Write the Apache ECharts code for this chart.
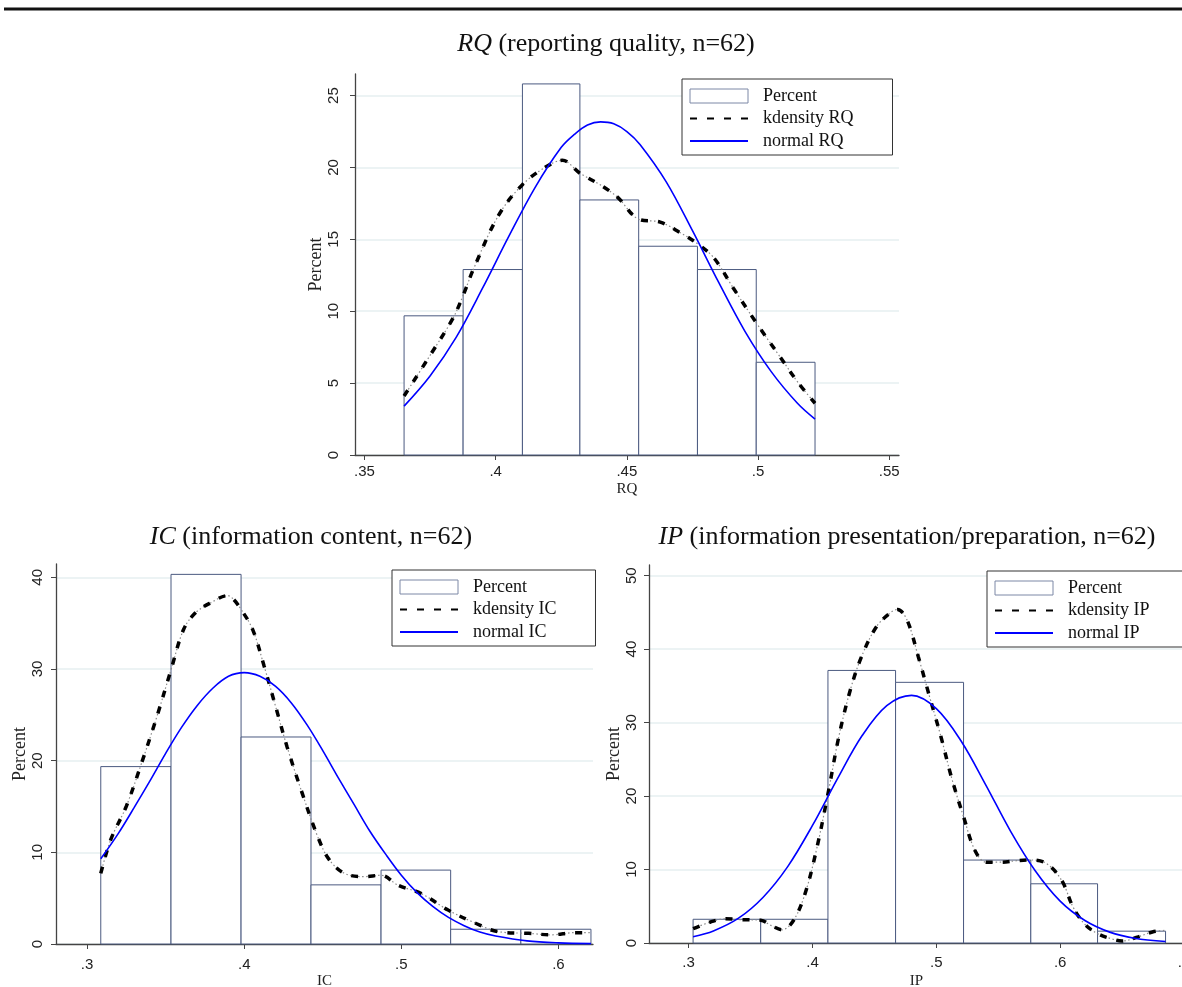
<!DOCTYPE html>
<html>
<head>
<meta charset="utf-8">
<script src="https://cdn.jsdelivr.net/npm/echarts@6/dist/echarts.min.js"></script>
<style>
  html, body { margin: 0; padding: 0; background: #fff; }
  #chart { width: 1182px; height: 987px; }
</style>
</head>
<body>
<div id="chart"></div>
<script>
// ---- RQ (reporting quality) ----
const rqEdges = [0.3651, 0.3876, 0.4102, 0.4321, 0.4545, 0.4769, 0.4993, 0.5217];
const rqPct = [9.68, 12.90, 25.81, 17.74, 14.52, 12.90, 6.45];
const rqKdens = [[0.3651, 4.1], [0.3749, 6.9], [0.3837, 9.5], [0.3876, 11.1], [0.3917, 13.0], [0.4012, 16.7],
  [0.4102, 18.8], [0.4188, 20.0], [0.4254, 20.5], [0.4321, 19.6], [0.4407, 18.7], [0.4466, 17.9],
  [0.4545, 16.4], [0.4627, 16.2], [0.4700, 15.5], [0.4769, 14.7], [0.4832, 13.7], [0.4906, 11.6],
  [0.4993, 9.2], [0.5081, 6.9], [0.5154, 5.0], [0.5217, 3.6]];
const rqNormal = [[0.3651, 3.4], [0.375, 5.5], [0.385, 8.2], [0.395, 11.6], [0.405, 15.2], [0.415, 18.6],
  [0.425, 21.4], [0.43, 22.3], [0.435, 22.95], [0.44, 23.17], [0.445, 23.04], [0.45, 22.5], [0.455, 21.6],
  [0.465, 19.0], [0.475, 15.6], [0.485, 12.0], [0.495, 8.6], [0.505, 5.8], [0.515, 3.6], [0.5217, 2.5]];
const rqXTicks = [0.35, 0.4, 0.45, 0.5, 0.55];
const rqYTicks = [0, 5, 10, 15, 20, 25];

// ---- IC (information content) ----
const icEdges = [0.3087, 0.3534, 0.3980, 0.4425, 0.4871, 0.5314, 0.5761, 0.6207];
const icPct = [19.35, 40.32, 22.58, 6.45, 8.06, 1.61, 1.61];
const icKdens = [[0.3087, 7.7], [0.3151, 11.4], [0.3249, 15.0], [0.3346, 19.7], [0.3444, 24.8], [0.3534, 29.9],
  [0.3614, 34.3], [0.3688, 36.1], [0.3785, 37.2], [0.3895, 38.0], [0.3932, 37.6], [0.3980, 36.5],
  [0.4054, 34.3], [0.4127, 30.3], [0.4200, 25.9], [0.4273, 21.5], [0.4370, 16.4], [0.4468, 11.7],
  [0.4541, 9.2], [0.4639, 7.7], [0.4761, 7.35], [0.4871, 7.5], [0.4980, 6.4], [0.5127, 5.5],
  [0.5298, 3.7], [0.5468, 2.3], [0.5614, 1.35], [0.5810, 1.16], [0.5955, 1.0], [0.6102, 1.24], [0.6207, 1.24]];
const icNormal = [[0.3087, 9.3], [0.32, 12.1], [0.33, 14.9], [0.34, 17.8], [0.35, 20.8], [0.36, 23.6],
  [0.37, 26.0], [0.38, 27.9], [0.39, 29.2], [0.40, 29.6], [0.41, 29.2], [0.42, 28.1], [0.43, 26.3],
  [0.44, 23.9], [0.45, 21.1], [0.46, 18.1], [0.47, 15.2], [0.48, 12.3], [0.49, 9.8], [0.50, 7.5],
  [0.51, 5.6], [0.52, 4.1], [0.53, 2.9], [0.54, 2.0], [0.55, 1.3], [0.56, 0.87], [0.58, 0.34],
  [0.60, 0.12], [0.6207, 0.04]];
const icXTicks = [0.3, 0.4, 0.5, 0.6];
const icYTicks = [0, 10, 20, 30, 40];

// ---- IP (information presentation/preparation) ----
const ipEdges = [0.3036, 0.3582, 0.4125, 0.4671, 0.5220, 0.5763, 0.6302, 0.6851];
const ipPct = [3.23, 3.23, 37.10, 35.48, 11.29, 8.06, 1.61];
const ipKdens = [[0.3036, 1.95], [0.3177, 2.86], [0.3299, 3.3], [0.3421, 3.18], [0.3582, 3.1], [0.3665, 2.4],
  [0.3756, 1.8], [0.3848, 3.1], [0.3940, 6.7], [0.4031, 12.6], [0.4125, 20.3], [0.4213, 28.1],
  [0.4305, 34.4], [0.4397, 39.0], [0.4519, 43.1], [0.4641, 45.1], [0.4687, 45.4], [0.4763, 44.0],
  [0.4854, 39.0], [0.4946, 33.5], [0.5037, 28.1], [0.5128, 22.2], [0.5220, 17.2], [0.5312, 12.6],
  [0.5403, 11.0], [0.5525, 11.0], [0.5647, 11.2], [0.5763, 11.3], [0.5891, 10.8], [0.6013, 8.5],
  [0.6104, 4.9], [0.6196, 2.6], [0.6302, 1.27], [0.6410, 0.6], [0.6501, 0.27], [0.6623, 0.8],
  [0.6745, 1.5], [0.6851, 1.73]];
const ipNormal = [[0.3036, 0.85], [0.32, 1.64], [0.34, 3.34], [0.36, 6.2], [0.38, 10.4], [0.40, 16.0],
  [0.42, 22.3], [0.44, 28.2], [0.46, 32.3], [0.48, 33.7], [0.50, 31.9], [0.52, 27.5], [0.54, 21.5],
  [0.56, 15.2], [0.58, 9.8], [0.60, 5.7], [0.62, 3.06], [0.64, 1.48], [0.66, 0.65], [0.6851, 0.2]];
const ipXTicks = [0.3, 0.4, 0.5, 0.6, 0.7];
const ipYTicks = [0, 10, 20, 30, 40, 50];

const SERIF = 'Liberation Serif';
const SANS = 'Liberation Sans';
const BAR_LINE = '#4b5a80';

function bins(edges, pct) {
  return pct.map((v, i) => [edges[i], edges[i + 1], v]);
}

function histItem(params, api) {
  const p0 = api.coord([api.value(0), api.value(2)]);
  const p1 = api.coord([api.value(1), 0]);
  return {
    type: 'rect',
    shape: { x: p0[0], y: p0[1], width: p1[0] - p0[0], height: p1[1] - p0[1] },
    style: { fill: '#fff', stroke: BAR_LINE, lineWidth: 1 }
  };
}

function tickLabel(v) {
  return String(v).replace(/^0\./, '.');
}

function xAxis(idx, min, max, ticks, name, nameGap, margin) {
  return {
    type: 'value', gridIndex: idx, min: min, max: max,
    name: name, nameLocation: 'middle', nameGap: nameGap,
    nameTextStyle: { fontFamily: SERIF, fontSize: 15, color: '#222' },
    axisLine: { show: true, lineStyle: { color: '#444', width: 1.3 } },
    axisTick: { show: true, length: 5, customValues: ticks, lineStyle: { color: '#444' } },
    axisLabel: { customValues: ticks, formatter: tickLabel, margin: margin,
      fontFamily: SANS, fontSize: 15, color: '#222' },
    splitLine: { show: false }
  };
}

function yAxis(idx, max, ticks, step, nameGap, margin) {
  return {
    type: 'value', gridIndex: idx, min: 0, max: max, interval: step,
    name: 'Percent', nameLocation: 'middle', nameGap: nameGap, nameRotate: 90,
    nameTextStyle: { fontFamily: SERIF, fontSize: 18, color: '#222' },
    axisLine: { show: true, lineStyle: { color: '#444', width: 1.3 } },
    axisTick: { show: true, length: 5, customValues: ticks, lineStyle: { color: '#444' } },
    axisLabel: { customValues: ticks, rotate: 90, margin: margin,
      fontFamily: SANS, fontSize: 15, color: '#222' },
    splitLine: { show: true, lineStyle: { color: '#e6eff1', width: 1.5 } }
  };
}

function panelSeries(idx, edges, pct, kdens, normal, tag) {
  return [
    { type: 'custom', name: 'Percent', xAxisIndex: idx, yAxisIndex: idx,
      renderItem: histItem, encode: { x: [0, 1], y: 2 }, data: bins(edges, pct), z: 1 },
    { type: 'line', name: 'kd-dots-' + tag, xAxisIndex: idx, yAxisIndex: idx, data: kdens,
      smooth: 0.35, symbol: 'none', lineStyle: { color: '#8a8a8a', width: 1.2, type: [1.5, 2.5] }, z: 2 },
    { type: 'line', name: 'kdensity ' + tag, xAxisIndex: idx, yAxisIndex: idx, data: kdens,
      smooth: 0.35, symbol: 'none', lineStyle: { color: '#000', width: 3.5, type: [7, 10] }, z: 3 },
    { type: 'line', name: 'normal ' + tag, xAxisIndex: idx, yAxisIndex: idx, data: normal,
      smooth: 0.35, symbol: 'none', lineStyle: { color: '#0000ff', width: 1.6 }, z: 4 }
  ];
}

const HIDE_SYMBOL = { color: 'rgba(0,0,0,0)', borderWidth: 0, opacity: 0 };

function legend(tag, left, top, padRight) {
  return {
    orient: 'vertical', left: left, top: top,
    padding: [8, padRight, 5, 7], itemGap: 4.5, itemWidth: 58, itemHeight: 14,
    borderColor: '#333', borderWidth: 1, backgroundColor: '#fff',
    selectedMode: false,
    textStyle: { fontFamily: SERIF, fontSize: 18, color: '#111', lineHeight: 14, padding: [0, 0, 0, 10] },
    data: [
      { name: 'Percent', icon: 'rect', itemStyle: { color: '#fff', borderColor: '#7d88a6', borderWidth: 1 } },
      { name: 'kdensity ' + tag, itemStyle: HIDE_SYMBOL },
      { name: 'normal ' + tag, itemStyle: HIDE_SYMBOL }
    ]
  };
}

function title(label, rest, x, y, size) {
  return {
    text: '{i|' + label + '}' + rest, left: x, top: y, textAlign: 'center',
    textStyle: { fontFamily: SERIF, fontSize: size, fontWeight: 'normal', color: '#111',
      rich: { i: { fontFamily: SERIF, fontSize: size, fontStyle: 'italic', color: '#111' } } }
  };
}

const chart = echarts.init(document.getElementById('chart'), null, { renderer: 'canvas' });
chart.setOption({
  animation: false,
  backgroundColor: '#fff',
  title: [
    title('RQ', ' (reporting quality, n=62)', 601, 26, 26),
    title('IC', ' (information content, n=62)', 306, 519, 26),
    title('IP', ' (information presentation/preparation, n=62)', 902, 519, 26)
  ],
  legend: [
    legend('RQ', 682, 79, 39),
    legend('IC', 392, 570, 39),
    legend('IP', 987, 571, 60)
  ],
  grid: [
    { left: 355, top: 74, width: 544, height: 381, outerBoundsMode: 'none' },
    { left: 56, top: 564, width: 537, height: 380, outerBoundsMode: 'none' },
    { left: 649, top: 565, width: 535, height: 378, outerBoundsMode: 'none' }
  ],
  xAxis: [
    xAxis(0, 0.3464, 0.5537, rqXTicks, 'RQ', 27, 9),
    xAxis(1, 0.2802, 0.622, icXTicks, 'IC', 28, 13.5),
    xAxis(2, 0.268, 0.7, ipXTicks, 'IP', 31, 12.5)
  ],
  yAxis: [
    yAxis(0, 26.5, rqYTicks, 5, 24.5, 14),
    yAxis(1, 41.45, icYTicks, 10, 22.5, 10.5),
    yAxis(2, 51.45, ipYTicks, 10, 19.5, 10)
  ],
  graphic: [
    { type: 'line', shape: { x1: 4, y1: 9, x2: 1182, y2: 9 }, style: { stroke: '#111', lineWidth: 3 } }
  ],
  series: [].concat(
    panelSeries(0, rqEdges, rqPct, rqKdens, rqNormal, 'RQ'),
    panelSeries(1, icEdges, icPct, icKdens, icNormal, 'IC'),
    panelSeries(2, ipEdges, ipPct, ipKdens, ipNormal, 'IP')
  )
});
</script>
</body>
</html>
